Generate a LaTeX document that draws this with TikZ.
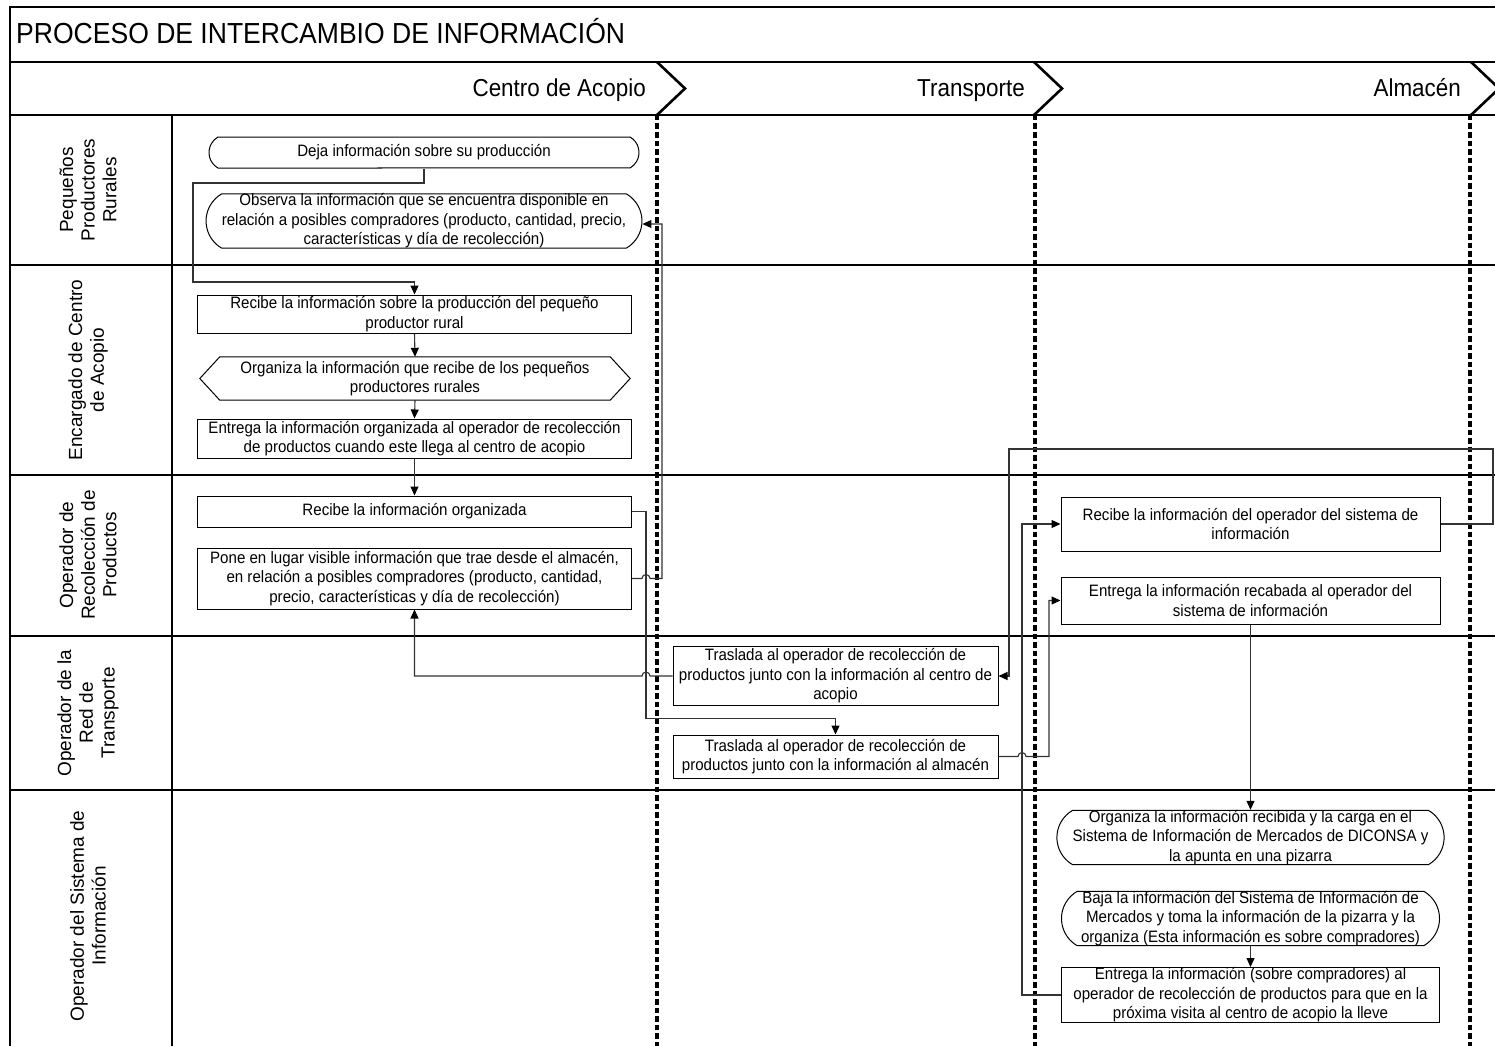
\documentclass[tikz,border=0pt]{standalone}
\usepackage{fontspec}
\setmainfont{Liberation Sans}
\newfontfamily\narrowfont[FakeStretch=0.915]{Liberation Sans}
\usetikzlibrary{shapes.misc,arrows.meta}
\newcommand\bodyfs{\narrowfont\fontsize{16.5}{19.4}\selectfont}
\newcommand\lanefs{\fontsize{19}{21.7}\selectfont}
\tikzset{
  frame/.style={line width=1.3pt, black},
  phaseline/.style={line width=3.2pt, dash pattern=on 5.5pt off 3pt, black},
  chev/.style={line width=2.6pt, black},
  rbox/.style={draw, line width=1pt, rectangle, align=center, font=\bodyfs, inner sep=0pt},
  sbox/.style={draw, line width=1pt, rounded rectangle, rounded rectangle arc length=120, align=center, font=\bodyfs, inner sep=0pt},
  hbox/.style={rectangle, align=center, font=\bodyfs, inner sep=0pt},
  lanelbl/.style={rotate=90, align=center, font=\lanefs},
  phaselbl/.style={anchor=base east, font=\narrowfont\fontsize{24.5}{28}\selectfont, inner sep=0pt},
  conn/.style={draw=black!80, line width=1.1pt, -{Triangle[length=9pt,width=8pt,color=black]}}
}
\begin{document}
\begin{tikzpicture}[x=1pt,y=-1pt]
\useasboundingbox (0,0) rectangle (1495,1046);
% frame and lanes
\draw[frame] (1495,7) -- (10,7) -- (10,1046);
\foreach \yy in {62,115,265,475,636,790} \draw[frame] (10,\yy) -- (1495,\yy);
\draw[frame] (172,115) -- (172,1046);
% title and phases
\node[anchor=base west, font=\narrowfont\fontsize{29}{33}\selectfont, inner sep=0pt] (title) at (16,44) {PROCESO DE INTERCAMBIO DE INFORMACIÓN};
\node[phaselbl] (ph1) at (646,96.5) {Centro de Acopio};
\node[phaselbl] (ph2) at (1025,96.5) {Transporte};
\node[phaselbl] (ph3) at (1461,96.5) {Almacén};
\draw[chev] (657,62) -- (685,88.5) -- (657,115);
\draw[chev] (1034,62) -- (1062,88.5) -- (1034,115);
\draw[chev] (1471,62) -- (1499,88.5) -- (1471,115);
\draw[phaseline] (657,115) -- (657,1046);
\draw[phaseline] (1035,115) -- (1035,1046);
\draw[phaseline] (1470,115) -- (1470,1046);
% lane labels
\node[lanelbl] (l1) at (88,190) {Pequeños\\Productores\\Rurales};
\node[lanelbl] (l2) at (88,370) {Encargado de Centro\\de Acopio};
\node[lanelbl] (l3) at (88,555) {Operador de\\Recolección de\\Productos};
\node[lanelbl] (l4) at (88,713) {Operador de la\\Red de\\Transporte};
\node[lanelbl] (l5) at (88,916) {Operador del Sistema de\\Información};
% nodes
\node[sbox, minimum width=430pt, minimum height=31pt] (n1) at (424,152.5) {Deja información sobre su producción};
\node[sbox, minimum width=430pt, minimum height=52pt] (n2) at (424,221) {Observa la información que se encuentra disponible en\\relación a posibles compradores (producto, cantidad, precio,\\características y día de recolección)};
\node[rbox, minimum width=434pt, minimum height=38pt] (n3) at (414.5,314) {Recibe la información sobre la producción del pequeño\\productor rural};
\node[hbox, minimum width=430pt, minimum height=43pt] (n4) at (415,378.5) {Organiza la información que recibe de los pequeños\\productores rurales};
\draw[line width=1pt] (n4.west) -- ([xshift=20pt]n4.north west) -- ([xshift=-20pt]n4.north east) -- (n4.east) -- ([xshift=-20pt]n4.south east) -- ([xshift=20pt]n4.south west) -- cycle;
\node[rbox, minimum width=434pt, minimum height=39pt] (n5) at (414.5,438.5) {Entrega la información organizada al operador de recolección\\de productos cuando este llega al centro de acopio};
\node[rbox, minimum width=434pt, minimum height=31pt] (n6) at (414.5,511.5) {Recibe la información organizada};
\node[rbox, minimum width=434pt, minimum height=61pt] (n7) at (414.5,578.5) {Pone en lugar visible información que trae desde el almacén,\\en relación a posibles compradores (producto, cantidad,\\precio, características y día de recolección)};
\node[rbox, minimum width=325pt, minimum height=59pt] (n8) at (835.5,676) {Traslada al operador de recolección de\\productos junto con la información al centro de\\acopio};
\node[rbox, minimum width=325pt, minimum height=43pt] (n9) at (835.5,756.5) {Traslada al operador de recolección de\\productos junto con la información al almacén};
\node[rbox, minimum width=379pt, minimum height=54pt] (n10) at (1250.5,524) {Recibe la información del operador del sistema de\\información};
\node[rbox, minimum width=379pt, minimum height=47pt] (n11) at (1250.5,600.5) {Entrega la información recabada al operador del\\sistema de información};
\node[sbox, minimum width=378pt, minimum height=54pt] (n12) at (1250.5,837.5) {Organiza la información recibida y la carga en el\\Sistema de Información de Mercados de DICONSA y\\la apunta en una pizarra};
\node[sbox, minimum width=378pt, minimum height=54pt] (n13) at (1250.5,918.5) {Baja la información del Sistema de Información de\\Mercados y toma la información de la pizarra y la\\organiza (Esta información es sobre compradores)};
\node[rbox, minimum width=378pt, minimum height=55pt] (n14) at (1250.5,995) {Entrega la información (sobre compradores) al\\operador de recolección de productos para que en la\\próxima visita al centro de acopio la lleve};
% connectors
\draw[conn] (n1.south) |- (193,183) |- (n3.north |- 0,282) -- (n3.north);
\draw[conn] (n3.south) -- (n4.north);
\draw[conn] (n4.south) -- (n5.north);
\draw[conn] (n5.south) -- (n6.north);
\draw[conn] (n6.east) -- (646,511.5) -- (646,718.5) -| (n9.north);
\draw[conn] (n7.east) -- (642,578.5) arc[start angle=180,end angle=360,radius=4] -- (662,578.5) -- (662,224) -- (n2.east |- 0,224);
\draw[conn] (n8.west) -- (650,676) arc[start angle=0,end angle=-180,radius=4] -- (n7.south |- 0,676) -- (n7.south);
\draw[conn] (n9.east) -- (1018,756.5) arc[start angle=180,end angle=360,radius=4] -- (1049,756.5) -- (1049,600.5) -- (n11.west);
\draw[conn] (n10.east) -- (1493,524) -- (1493,449) -- (1009,449) -- (1009,676) -- (n8.east);
\draw[conn] (n14.west) -- (1022,995) -- (1022,524) -- (n10.west);
\draw[conn] (n11.south) -- (n12.north);
\draw[conn] (n13.south) -- (n14.north);
\end{tikzpicture}
\end{document}
